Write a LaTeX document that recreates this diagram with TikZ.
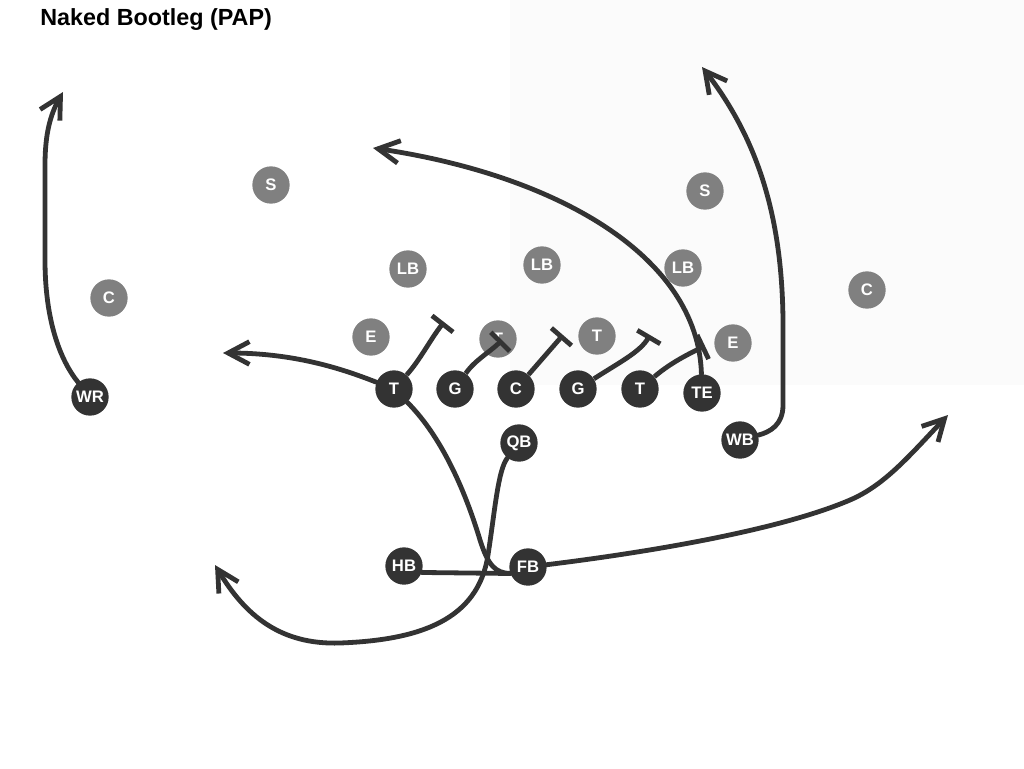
\documentclass[tikz,border=0pt]{standalone}
\usepackage{fontspec}
\setmainfont{Liberation Sans}
\usetikzlibrary{arrows.meta}
\definecolor{offc}{HTML}{333333}
\definecolor{defc}{HTML}{808080}
\definecolor{linec}{HTML}{333333}
\definecolor{panel}{HTML}{FBFBFB}
\pgfdeclarelayer{back}
\pgfdeclarelayer{bg}
\pgfdeclarelayer{fg}
\pgfsetlayers{back,bg,main,fg}
\tikzset{
  player/.style={circle, inner sep=0pt, minimum size=28pt, text=white,
    font=\bfseries\fontsize{12.5}{12.5}\selectfont},
  off/.style={player, fill=offc},
  def/.style={player, fill=defc},
  plainline/.style={draw=linec, line width=3.6pt, line cap=round, line join=round},
  route/.style={plainline, -{Straight Barb[length=16pt,width=17pt]}},
  blk/.style={draw=linec, line width=3.6pt, line cap=butt, -{Bar[width=20pt]}}
}
\begin{document}
\begin{tikzpicture}[x=0.75pt,y=-0.75pt]
\useasboundingbox (0,0) rectangle (1024,768);
\begin{pgfonlayer}{back}
\fill[panel] (510,0) rectangle (1024,385);
\end{pgfonlayer}
\node[anchor=base west, inner sep=0pt, font=\bfseries\fontsize{17.5}{20}\selectfont] (title) at (40,25) {Naked Bootleg (PAP)};
% defense
\begin{pgfonlayer}{bg}
\node[def] (S1) at (271,185) {S};
\node[def] (S2) at (705,191) {S};
\node[def] (C1) at (109,298) {C};
\node[def] (C2) at (867,290) {C};
\node[def] (LB1) at (408,269) {LB};
\node[def] (LB2) at (542,265) {LB};
\node[def] (LB3) at (683,268) {LB};
\node[def] (E1) at (371,337) {E};
\node[def] (DT1) at (498,339) {T};
\node[def] (DT2) at (597,336) {T};
\node[def] (E2) at (733,343) {E};
\end{pgfonlayer}
% offense
\begin{pgfonlayer}{fg}
\node[off] (WR) at (90,397) {WR};
\node[off] (T1) at (394,389) {T};
\node[off] (G1) at (455,389) {G};
\node[off] (C) at (516,389) {C};
\node[off] (G2) at (578,389) {G};
\node[off] (T2) at (640,389) {T};
\node[off] (TE) at (702,393) {TE};
\node[off] (WB) at (740,440) {WB};
\node[off] (QB) at (519,443) {QB};
\node[off] (HB) at (404,566) {HB};
\node[off] (FB) at (528,567) {FB};
\end{pgfonlayer}
% route end points
\coordinate (tWR) at (63,92);
\coordinate (tWB) at (702,67);
\coordinate (tTE) at (373,148);
\coordinate (tT1) at (223,353);
\coordinate (tQB) at (215,565);
\coordinate (tFB) at (948,415);
% routes
\draw[route] (WR) .. controls (60,360) and (45,320) .. (45,260) -- (45,165)
  .. controls (45,135) and (50,115) .. (tWR);
\draw[route] (WB) .. controls (770,432) and (783,425) .. (783,405) -- (783,320)
  .. controls (782,230) and (764,147) .. (tWB);
\draw[route] (TE) .. controls (698,255) and (555,175) .. (tTE);
\draw[route] (T1) .. controls (350,372) and (300,353) .. (tT1);
\draw[route] (QB) .. controls (498,470) and (495,510) .. (488,555)
  .. controls (478,620) and (420,640) .. (340,643)
  .. controls (280,645) and (245,615) .. (tQB);
\draw[route] (FB) .. controls (650,552) and (780,530) .. (850,500)
  .. controls (885,485) and (910,455) .. (tFB);
\draw[plainline] (T1) .. controls (445,440) and (468,500) .. (480,540)
  .. controls (488,565) and (495,573) .. (FB.200);
\draw[plainline] (HB.-20) -- (FB.200);
% blocks
\draw[blk] (T1) .. controls (420,360) and (430,340) .. (444,322);
\draw[blk] (G1) .. controls (475,360) and (490,352) .. (502,340);
\draw[blk] (C) -- (563,335);
\draw[blk] (G2) .. controls (620,362) and (640,352) .. (650,335);
\draw[blk] (T2) .. controls (668,365) and (684,356) .. (705,346);
\end{tikzpicture}
\end{document}
